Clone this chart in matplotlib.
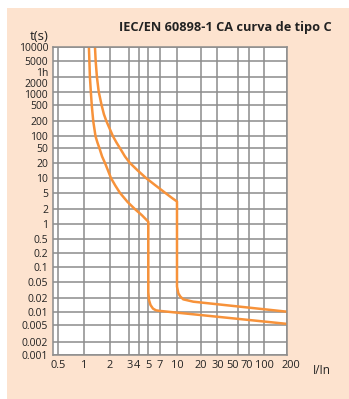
import numpy as np
import matplotlib
matplotlib.use("Agg")
import matplotlib.pyplot as plt
from matplotlib.patches import Rectangle
from matplotlib.transforms import ScaledTranslation

plt.rcParams['font.family'] = ['Open Sans', 'DejaVu Sans']

# --- data: tripping curve, type C (I/In vs t in s) ---
# lower limit curve
low_i = [1.14, 1.155, 1.17, 1.20, 1.23, 1.28, 1.36, 1.43, 1.51, 1.62, 1.75, 1.90,
         2.04, 2.24, 2.47, 2.89, 3.55, 4.31, 5.0,
         5.0, 5.1, 5.33, 5.72, 6.24, 7.0, 20.0, 200.0]
low_t = [10000, 5000, 2000, 1000, 500, 200, 100, 70, 50, 30, 20, 14,
         10, 7, 5, 3, 2, 1.5, 1.11,
         0.028, 0.018, 0.014, 0.0117, 0.0107, 0.0104, 0.0084, 0.0053]
# upper limit curve
up_i = [1.34, 1.366, 1.41, 1.48, 1.60, 1.70, 1.82, 2.13, 2.29, 2.47, 2.74, 3.06,
        3.91, 4.74, 6.06, 7.84, 9.0, 10.0,
        10.0, 10.0, 10.4, 11.0, 12.0, 16.1, 200.0]
up_t = [10000, 5000, 2000, 1000, 500, 300, 200, 100, 70, 50, 30, 20,
        14, 10, 7.23, 5, 3.76, 3.07,
        0.05, 0.038, 0.026, 0.0218, 0.0187, 0.0166, 0.0100]

x_ticks = [0.5, 1, 2, 3, 4, 5, 7, 10, 20, 30, 50, 70, 100, 200]
x_labels = ['0.5', '1', '2', '3', '4', '5', '7', '10', '20', '30', '50', '70', '100', '200']
y_ticks = [0.001, 0.002, 0.005, 0.01, 0.02, 0.05, 0.1, 0.2, 0.5, 1, 2, 5,
           10, 20, 50, 100, 200, 500, 1000, 2000, 5000, 10000]
y_labels = ['0.001', '0.002', '0.005', '0.01', '0.02', '0.05', '0.1', '0.2', '0.5',
            '1', '2', '5', '10', '20', '50', '100', '200', '500', '1000', '2000',
            '5000', '10000']

# --- the printed chart uses an irregular log-like grid: scale anchors ---
xa_val = [0.43, 0.5, 1, 2, 3, 4, 5, 7, 10, 20, 30, 50, 70, 100, 200]
xa_pos = [53, 58.3, 84, 110, 129.3, 138.7, 148.3, 160, 177, 200.7, 217.3, 238, 249.3, 263.7, 287]
ya_val = y_ticks
ya_pos = [355, 341.7, 325, 311.7, 298, 281.7, 267.3, 253.5, 239, 224, 209, 193,
          178, 163, 148.3, 136.3, 121.3, 105.3, 91.7, 76.7, 61.5, 47.3]


def make_scale(vals, pos, flip=False):
    lv = np.log10(vals)
    p = np.array(pos, float)
    if flip:
        p = -p
    # extend far out so values outside the grid still map monotonically
    s0 = (p[1] - p[0]) / (lv[1] - lv[0])
    s1 = (p[-1] - p[-2]) / (lv[-1] - lv[-2])
    lv = np.concatenate([[lv[0] - 6], lv, [lv[-1] + 6]])
    p = np.concatenate([[p[0] - 6 * s0], p, [p[-1] + 6 * s1]])

    def fwd(v):
        with np.errstate(divide='ignore', invalid='ignore'):
            return np.interp(np.log10(np.clip(v, 1e-12, None)), lv, p)

    def inv(q):
        return 10 ** np.interp(q, p, lv)
    return fwd, inv


fig = plt.figure(figsize=(3.49, 3.99), dpi=100, facecolor='white')
W, H = 349, 399
fig.patches.append(Rectangle((7 / W, 0), 1 - 7 / W, 1 - 8 / H, transform=fig.transFigure,
                             facecolor='#fde3cf', edgecolor='none', zorder=-10))

ax = fig.add_axes([53 / W, 1 - 355 / H, (287 - 53) / W, (355 - 47.3) / H])
ax.set_xscale('function', functions=make_scale(xa_val, xa_pos))
ax.set_yscale('function', functions=make_scale(ya_val, ya_pos, flip=True))
ax.set_xlim(0.43, 200)
ax.set_ylim(0.001, 10000)
ax.set_facecolor('white')

ax.set_xticks(x_ticks, x_labels)
ax.set_yticks(y_ticks, y_labels)
ax.set_yticks([3600], ['1h'], minor=True)
ax.xaxis.set_minor_locator(matplotlib.ticker.NullLocator())
ax.tick_params(axis='x', which='both', length=0, pad=3.5, labelsize=7.9, colors='#222222')
ax.tick_params(axis='y', which='both', length=0, pad=3.5, labelsize=7.5, colors='#222222')
ax.grid(True, which='major', color='#8c8c8c', linewidth=1.1)
ax.set_axisbelow(True)
for sp in ax.spines.values():
    sp.set_color('#8c8c8c')
    sp.set_linewidth(1.1)

# nudge crowded labels, like the printed chart
def nudge(tick, dx_px=0, dy_px=0):
    tick.label1.set_transform(tick.label1.get_transform() +
                              ScaledTranslation(dx_px / 100, -dy_px / 100, fig.dpi_scale_trans))

ymaj = ax.yaxis.get_major_ticks()
nudge(ymaj[y_ticks.index(2000)], dy_px=6)
nudge(ymaj[y_ticks.index(1000)], dy_px=2.6)
nudge(ax.yaxis.get_minor_ticks()[0], dy_px=5.3)

xmaj = ax.xaxis.get_major_ticks()
nudge(xmaj[x_ticks.index(4)], dx_px=-2)
nudge(xmaj[x_ticks.index(50)], dx_px=-5)
nudge(xmaj[x_ticks.index(70)], dx_px=-3)
nudge(xmaj[x_ticks.index(100)], dx_px=1)
nudge(xmaj[x_ticks.index(200)], dx_px=4)

ax.plot(low_i, low_t, color='#f7923a', linewidth=1.8, solid_joinstyle='round')
ax.plot(up_i, up_t, color='#f7923a', linewidth=1.8, solid_joinstyle='round')

fig.text(332 / W, 1 - 27.5 / H, 'IEC/EN 60898-1 CA curva de tipo C', ha='right', va='center',
         fontsize=9.2, fontweight='bold', color='#222222')
fig.text(39 / W, 1 - 36 / H, 't(s)', ha='center', va='center', fontsize=9.5, color='#222222')
fig.text(322 / W, 1 - 371 / H, 'I/In', ha='center', va='center', fontsize=8.5, color='#222222')

fig.savefig('out.png', dpi=100, facecolor='white')
